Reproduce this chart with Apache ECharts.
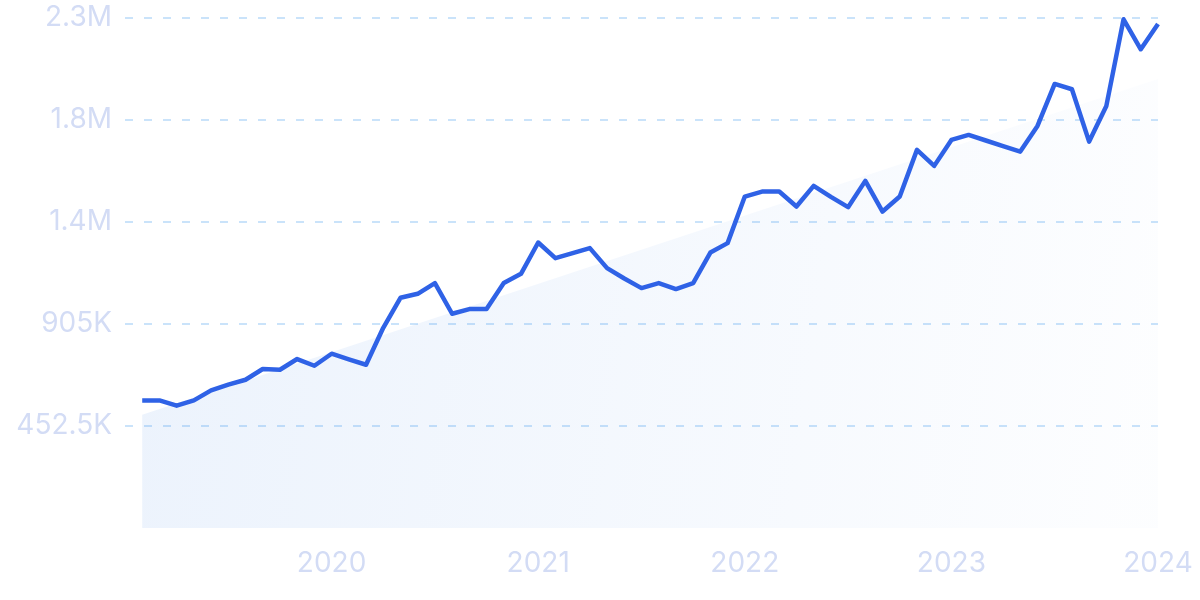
<!DOCTYPE html>
<html>
<head>
<meta charset="utf-8">
<script src="https://cdn.jsdelivr.net/npm/echarts@6/dist/echarts.min.js"></script>
<style>
  html, body { margin: 0; padding: 0; background: #ffffff; }
  #chart { width: 1200px; height: 600px; }
</style>
</head>
<body>
<div id="chart"></div>
<script>
// Monthly data, Feb 2019 .. Jan 2024
const months = [
  '2019-02','2019-03','2019-04','2019-05','2019-06','2019-07','2019-08','2019-09','2019-10','2019-11','2019-12',
  '2020-01','2020-02','2020-03','2020-04','2020-05','2020-06','2020-07','2020-08','2020-09','2020-10','2020-11','2020-12',
  '2021-01','2021-02','2021-03','2021-04','2021-05','2021-06','2021-07','2021-08','2021-09','2021-10','2021-11','2021-12',
  '2022-01','2022-02','2022-03','2022-04','2022-05','2022-06','2022-07','2022-08','2022-09','2022-10','2022-11','2022-12',
  '2023-01','2023-02','2023-03','2023-04','2023-05','2023-06','2023-07','2023-08','2023-09','2023-10','2023-11','2023-12',
  '2024-01'
];
const values = [
  566100, 566100, 542600, 566100, 610400, 635700, 657800, 705300, 702100, 749600, 719900,
  773100, 747800, 724300, 888300, 1021300, 1039000, 1086500, 950400, 971200, 971200, 1086500, 1127700,
  1266500, 1197300, 1219500, 1241600, 1153000, 1106900, 1064300, 1086500, 1059900, 1086500, 1222100, 1263800,
  1470400, 1492500, 1492500, 1426000, 1517800, 1469000, 1423400, 1540000, 1403900, 1470400, 1677400, 1606500,
  1721700, 1743900, 1719000, 1693800, 1669800, 1783800, 1969900, 1946500, 1714200, 1872400, 2256700, 2123800,
  2235900
];
// Trend line endpoints
const trendMonths = ['2019-02', '2024-01'];
const trendValues = [502700, 1992100];

// Axis ticks
const yTickValues = [452500, 905000, 1357500, 1810000, 2262500];
const yTickLabels = ['452.5K', '905K', '1.4M', '1.8M', '2.3M'];
const xYears = [2019, 2020, 2021, 2022, 2023, 2024];

function monthToX(m) {
  const [y, mo] = m.split('-').map(Number);
  return y + (mo - 1) / 12;
}

const lineData = months.map((m, i) => [monthToX(m), values[i]]);
const trendData = trendMonths.map((m, i) => [monthToX(m), trendValues[i]]);

const labelColor = '#d3dcf5';
const fontFamily = 'Inter, "Noto Sans", sans-serif';

const chart = echarts.init(document.getElementById('chart'), null, { renderer: 'canvas' });
chart.setOption({
  animation: false,
  backgroundColor: '#ffffff',
  grid: { left: 125, right: 42, top: 18, bottom: 72, containLabel: false },
  xAxis: {
    type: 'value',
    min: xYears[0],
    max: xYears[xYears.length - 1],
    interval: 1,
    axisLine: { show: false },
    axisTick: { show: false },
    splitLine: { show: false },
    axisLabel: {
      color: labelColor,
      fontSize: 28,
      fontFamily: fontFamily,
      margin: 22,
      showMinLabel: false,
      formatter: v => (xYears.indexOf(Math.round(v)) > 0 ? String(Math.round(v)) : '')
    }
  },
  yAxis: {
    type: 'value',
    min: 0,
    max: yTickValues[yTickValues.length - 1],
    interval: yTickValues[0],
    axisLine: { show: false },
    axisTick: { show: false },
    axisLabel: {
      color: labelColor,
      fontSize: 28,
      fontFamily: fontFamily,
      margin: 13,
      formatter: v => {
        const idx = yTickValues.findIndex(t => Math.abs(t - v) < 1);
        return idx >= 0 ? yTickLabels[idx] : '';
      }
    },
    splitLine: {
      show: true,
      showMinLine: false,
      lineStyle: { color: 'rgba(150,200,245,0.5)', width: 2, type: [8, 11] }
    }
  },
  series: [
    {
      type: 'line',
      data: trendData,
      symbol: 'none',
      silent: true,
      lineStyle: { width: 0, opacity: 0 },
      areaStyle: {
        origin: 'start',
        color: new echarts.graphic.LinearGradient(0, 0, 1, 0.3, [
          { offset: 0, color: 'rgba(59,130,230,0.14)' },
          { offset: 1, color: 'rgba(59,130,230,0.02)' }
        ])
      },
      z: 1
    },
    {
      type: 'line',
      data: lineData,
      symbol: 'none',
      lineStyle: { color: '#2f62e6', width: 4.5, join: 'round' },
      z: 3
    }
  ]
});
</script>
</body>
</html>
